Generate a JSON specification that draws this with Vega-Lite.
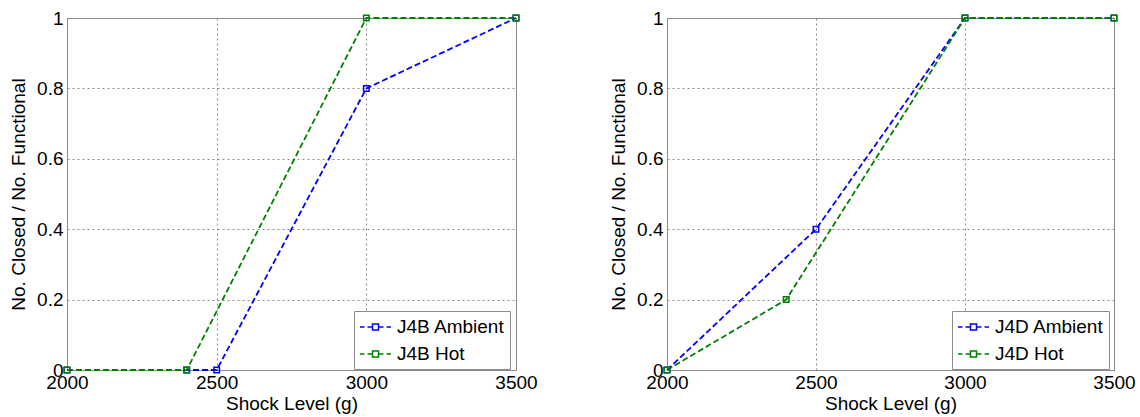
{
  "$schema": "https://vega.github.io/schema/vega-lite/v6.json",
  "padding": {"left": 9, "top": 8, "right": 4, "bottom": 4},
  "spacing": 71,
  "background": "white",
  "datasets": {
    "left": [
      {"shock": 2000, "ratio": 0, "series": "J4B Ambient"},
      {"shock": 2400, "ratio": 0, "series": "J4B Ambient"},
      {"shock": 2500, "ratio": 0, "series": "J4B Ambient"},
      {"shock": 3000, "ratio": 0.8, "series": "J4B Ambient"},
      {"shock": 3500, "ratio": 1, "series": "J4B Ambient"},
      {"shock": 2000, "ratio": 0, "series": "J4B Hot"},
      {"shock": 2400, "ratio": 0, "series": "J4B Hot"},
      {"shock": 3000, "ratio": 1, "series": "J4B Hot"},
      {"shock": 3500, "ratio": 1, "series": "J4B Hot"}
    ],
    "right": [
      {"shock": 2000, "ratio": 0, "series": "J4D Ambient"},
      {"shock": 2500, "ratio": 0.4, "series": "J4D Ambient"},
      {"shock": 3000, "ratio": 1, "series": "J4D Ambient"},
      {"shock": 3500, "ratio": 1, "series": "J4D Ambient"},
      {"shock": 2000, "ratio": 0, "series": "J4D Hot"},
      {"shock": 2400, "ratio": 0.2, "series": "J4D Hot"},
      {"shock": 3000, "ratio": 1, "series": "J4D Hot"},
      {"shock": 3500, "ratio": 1, "series": "J4D Hot"}
    ]
  },
  "hconcat": [
    {
      "width": 449,
      "height": 352,
      "data": {"name": "left"},
      "layer": [
        {
          "mark": {"type": "line", "strokeDash": [6, 3], "strokeWidth": 1.8},
          "encoding": {
            "x": {"field": "shock", "type": "quantitative", "title": "Shock Level (g)", "scale": {"domain": [2000, 3500], "nice": false, "zero": false}, "axis": {"values": [2000, 2500, 3000, 3500], "format": "d"}},
            "y": {"field": "ratio", "type": "quantitative", "title": "No. Closed / No. Functional", "scale": {"domain": [0, 1], "nice": false}, "axis": {"values": [0, 0.2, 0.4, 0.6, 0.8, 1], "format": "~g"}},
            "color": {"field": "series", "type": "nominal", "scale": {"domain": ["J4B Ambient", "J4B Hot"], "range": ["#0000ff", "#008000"]},
              "legend": {"orient": "none", "legendX": 287, "legendY": 293}}
          }
        },
        {
          "mark": {"type": "point", "shape": "square", "filled": false, "size": 30, "strokeWidth": 1.5, "opacity": 1},
          "encoding": {
            "x": {"field": "shock", "type": "quantitative"},
            "y": {"field": "ratio", "type": "quantitative"},
            "color": {"field": "series", "type": "nominal", "legend": null}
          }
        }
      ]
    },
    {
      "width": 447,
      "height": 352,
      "data": {"name": "right"},
      "layer": [
        {
          "mark": {"type": "line", "strokeDash": [6, 3], "strokeWidth": 1.8},
          "encoding": {
            "x": {"field": "shock", "type": "quantitative", "title": "Shock Level (g)", "scale": {"domain": [2000, 3500], "nice": false, "zero": false}, "axis": {"values": [2000, 2500, 3000, 3500], "format": "d"}},
            "y": {"field": "ratio", "type": "quantitative", "title": "No. Closed / No. Functional", "scale": {"domain": [0, 1], "nice": false}, "axis": {"values": [0, 0.2, 0.4, 0.6, 0.8, 1], "format": "~g"}},
            "color": {"field": "series", "type": "nominal", "scale": {"domain": ["J4D Ambient", "J4D Hot"], "range": ["#0000ff", "#008000"]},
              "legend": {"orient": "none", "legendX": 285, "legendY": 293}}
          }
        },
        {
          "mark": {"type": "point", "shape": "square", "filled": false, "size": 30, "strokeWidth": 1.5, "opacity": 1},
          "encoding": {
            "x": {"field": "shock", "type": "quantitative"},
            "y": {"field": "ratio", "type": "quantitative"},
            "color": {"field": "series", "type": "nominal", "legend": null}
          }
        }
      ]
    }
  ],
  "resolve": {"scale": {"color": "independent"}, "legend": {"color": "independent"}},
  "config": {
    "font": "Liberation Sans",
    "view": {"stroke": "#8c8c8c"},
    "axis": {
      "labelFontSize": 19,
      "titleFontSize": 19,
      "labelColor": "#000",
      "titleColor": "#000",
      "titleFontWeight": "normal",
      "grid": true,
      "gridColor": "#8c8c8c",
      "gridDash": [2, 3],
      "gridOpacity": 1,
      "domain": false,
      "ticks": false,
      "labelFlush": false,
      "labelPadding": 4
    },
    "axisX": {"titlePadding": 2, "labelPadding": 3},
    "axisY": {"titlePadding": 8},
    "legend": {
      "title": null,
      "labelFontSize": 19,
      "labelColor": "#000",
      "symbolType": "M-1.0,0H-0.55M-0.25,0H0.25M0.85,0H1.35M1.65,0H2.1M0.25,-0.3H0.85V0.3H0.25Z",
      "symbolSize": 400,
      "symbolStrokeWidth": 1.5,
      "padding": 5,
      "rowPadding": 6,
      "labelOffset": 16,
      "strokeColor": "#8c8c8c",
      "fillColor": "white",
      "cornerRadius": 0
    }
  }
}
